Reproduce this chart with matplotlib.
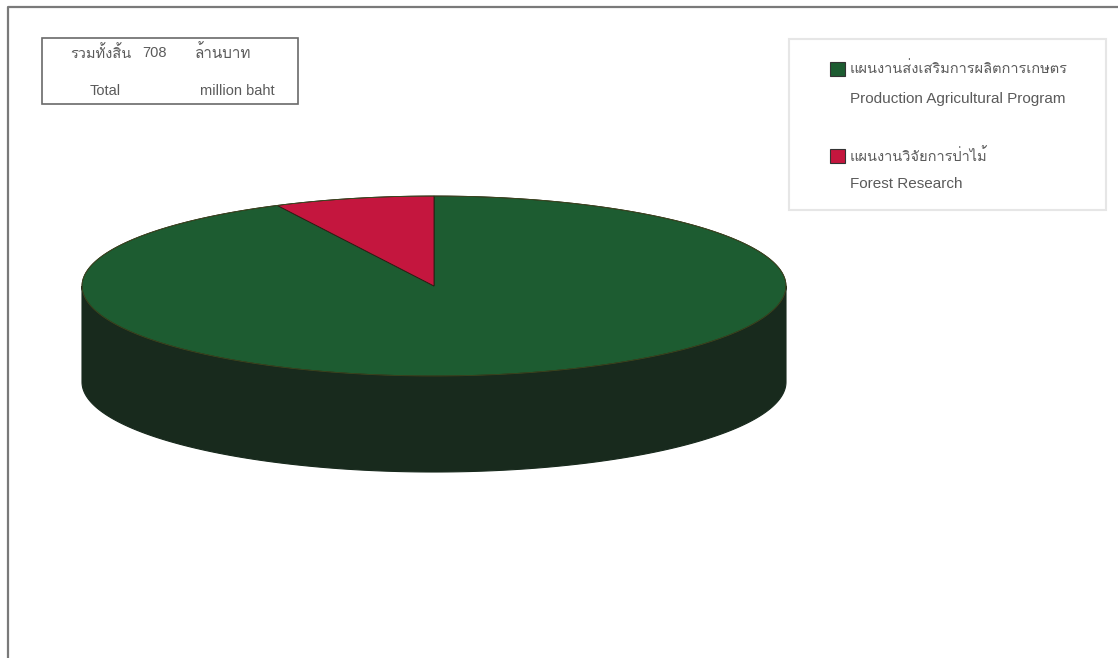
import numpy as np
import matplotlib
matplotlib.use("Agg")
import matplotlib.pyplot as plt
from matplotlib.patches import Polygon, Rectangle
from matplotlib import font_manager
from matplotlib.ft2font import FT2Font

# ---- data ----
labels_th = ["แผนงานส่งเสริมการผลิตการเกษตร", "แผนงานวิจัยการป่าไม้"]
labels_en = ["Production Agricultural Program", "Forest Research"]
values = [656, 52]
colors_top = ["#1d5c31", "#c4163e"]
colors_side = ["#182a1d", "#5e0a1e"]
total_value = 708
total_th = ["รวมทั้งสิ้น", "ล้านบาท"]
total_en = ["Total", "million baht"]

# ---- find a font that has Thai glyphs ----
thai_font = None
for f in font_manager.fontManager.ttflist:
    try:
        ft = FT2Font(f.fname)
        if ft.get_char_index(0x0E01) and ft.get_char_index(0x0E32):
            thai_font = f.name
            break
    except Exception:
        pass
fam = ["Liberation Sans", "DejaVu Sans"]
if thai_font:
    fam = ["Liberation Sans", thai_font, "DejaVu Sans"]
plt.rcParams['font.family'] = fam

W, H = 1118, 658
fig = plt.figure(figsize=(W / 100, H / 100), dpi=100)
ax = fig.add_axes([0, 0, 1, 1])
ax.set_xlim(0, W)
ax.set_ylim(H, 0)
ax.axis("off")

# frame
ax.plot([8, 8, W], [H, 7, 7], color="#7a7a7a", lw=1.6)

# ---- 3D pie ----
cx, cy, a, b, depth = 434, 286, 352, 90, 96
tot = sum(values)
ang = 90 + 360 * values[1] / tot
bounds = [(ang, 450), (90, ang)]  # green, red (red starts at top, counter-clockwise)


def ell(t):
    r = np.radians(t)
    return cx + a * np.cos(r), cy - b * np.sin(r)

# side faces (front half: 180..360)
for i, (t0, t1) in enumerate(bounds):
    for off in (0, 360):
        s0 = max(t0, 180 + off)
        s1 = min(t1, 360 + off)
        if s1 > s0:
            ts = np.linspace(s0, s1, 200)
            xs, ys = ell(ts)
            pts = np.column_stack([np.r_[xs, xs[::-1]], np.r_[ys, ys[::-1] + depth]])
            ax.add_patch(Polygon(pts, closed=True, facecolor=colors_side[i],
                                 edgecolor=colors_side[i], lw=0.8, zorder=2))

# top faces
for i, (t0, t1) in enumerate(bounds):
    ts = np.linspace(t0, t1, 400)
    xs, ys = ell(ts)
    pts = np.column_stack([np.r_[cx, xs], np.r_[cy, ys]])
    ax.add_patch(Polygon(pts, closed=True, facecolor=colors_top[i],
                         edgecolor="#2a1a10", lw=0.6, zorder=3))
ts = np.linspace(0, 360, 600)
xs, ys = ell(ts)
ax.plot(xs, ys, color="#3a4a20", lw=0.6, zorder=4)

# ---- total box ----
ax.add_patch(Rectangle((42, 38), 256, 66, facecolor="white", edgecolor="#6a6a6a", lw=1.2, zorder=5))
tc = "#5a5a5a"
ax.text(70, 53, total_th[0], fontsize=10.5, color=tc, va="center", ha="left", zorder=6)
ax.text(142, 53, str(total_value), fontsize=10.5, color=tc, va="center", ha="left", zorder=6)
ax.text(195, 53, total_th[1], fontsize=11, color=tc, va="center", ha="left", zorder=6)
ax.text(90, 91, total_en[0], fontsize=10.5, color=tc, va="center", ha="left", zorder=6)
ax.text(200, 91, total_en[1], fontsize=10.5, color=tc, va="center", ha="left", zorder=6)

# ---- legend box ----
ax.add_patch(Rectangle((789, 39), 317, 171, facecolor="white", edgecolor="#e6e6e6", lw=1.5, zorder=5))
ys_th = [69, 156]
ys_en = [99, 184]
for i in range(2):
    ax.add_patch(Rectangle((830, ys_th[i] - 7), 15, 14, facecolor=colors_top[i],
                           edgecolor="#333333", lw=0.8, zorder=6))
    ax.text(850, ys_th[i], labels_th[i], fontsize=10.5, color=tc, va="center", ha="left", zorder=6)
    ax.text(850, ys_en[i], labels_en[i], fontsize=11, color=tc, va="center", ha="left", zorder=6)

fig.savefig("out.png", dpi=100)
